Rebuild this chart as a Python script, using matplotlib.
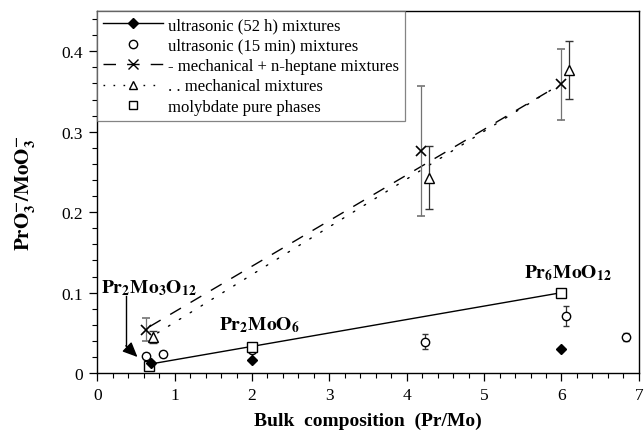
import matplotlib
matplotlib.use('Agg')
import matplotlib.pyplot as plt
from matplotlib.lines import Line2D
from matplotlib.ticker import MultipleLocator

plt.rcParams['font.family'] = ['Liberation Serif', 'DejaVu Serif']
plt.rcParams['mathtext.fontset'] = 'stix'

# ultrasonic (52 h) mixtures
u52_x = [0.70, 2.0, 6.0]
u52_y = [0.013, 0.016, 0.030]

# ultrasonic (15 min) mixtures
u15_x = [0.63, 0.85, 2.0, 4.24, 6.06, 6.84]
u15_y = [0.021, 0.024, 0.029, 0.039, 0.071, 0.045]
u15_err = [0.004, 0.004, 0.0, 0.009, 0.013, 0.005]

# mechanical + n-heptane mixtures
hep_x = [0.63, 4.19, 6.0]
hep_y = [0.054, 0.276, 0.359]
hep_err = [0.014, 0.081, 0.044]
hep_line_x = [0.68, 5.9]
hep_line_y = [0.058, 0.354]

# mechanical mixtures
mec_x = [0.72, 4.29, 6.10]
mec_y = [0.045, 0.243, 0.377]
mec_err = [0.007, 0.039, 0.036]
mec_line_x = [0.78, 5.95]
mec_line_y = [0.050, 0.357]

# molybdate pure phases
pure_x = [0.67, 2.0, 6.0]
pure_y = [0.009, 0.032, 0.100]
pure_line_x = [0.76, 6.0]
pure_line_y = [0.0125, 0.100]

fig = plt.figure(figsize=(6.44, 4.31), dpi=100)
ax = fig.add_axes([0.151, 0.132, 0.841, 0.840])

# lines
ax.plot(pure_line_x, pure_line_y, '-', color='black', lw=1.0)
ax.plot(hep_line_x, hep_line_y, color='black', lw=1.0, dashes=(9, 8))
ax.plot(mec_line_x, mec_line_y, color='black', lw=1.0, dashes=(1.2, 8), dash_capstyle='round')

# error bars and markers
ax.errorbar(hep_x, hep_y, yerr=hep_err, fmt='x', color='black', ecolor='0.45',
            ms=7, mew=1.2, elinewidth=0.9, capsize=3, zorder=3)
ax.errorbar(mec_x, mec_y, yerr=mec_err, fmt='^', mfc='white', mec='black',
            ecolor='0.2', ms=7, mew=1.0, elinewidth=0.9, capsize=3, zorder=3)
ax.errorbar(u15_x, u15_y, yerr=u15_err, fmt='o', mfc='white', mec='black',
            ecolor='0.2', ms=6, mew=1.0, elinewidth=0.9, capsize=2.5, zorder=3)
ax.plot(pure_x, pure_y, 's', mfc='white', mec='black', ms=7, mew=1.0, zorder=4)
ax.plot(u52_x, u52_y, 'D', color='black', ms=5, zorder=5)

# annotations
ax.text(0.05, 0.107, r'$\mathbf{Pr_2Mo_3O_{12}}$', fontsize=14, va='center', ha='left')
ax.plot([0.37, 0.37], [0.096, 0.034], color='black', lw=1.0)
ax.annotate('', xy=(0.52, 0.02), xytext=(0.37, 0.034),
            arrowprops=dict(arrowstyle='-|>,head_length=0.9,head_width=0.4',
                            color='black', lw=1.0, shrinkA=0, shrinkB=0))
ax.text(2.09, 0.061, r'$\mathbf{Pr_2MoO_6}$', fontsize=14, va='center', ha='center')
ax.text(6.08, 0.126, r'$\mathbf{Pr_6MoO_{12}}$', fontsize=14, va='center', ha='center')

ax.set_xlim(0, 7)
ax.set_ylim(0, 0.45)
ax.xaxis.set_major_locator(MultipleLocator(1))
ax.xaxis.set_minor_locator(MultipleLocator(0.2))
ax.yaxis.set_minor_locator(MultipleLocator(0.02))
ax.set_yticks([0, 0.1, 0.2, 0.3, 0.4])
ax.set_yticklabels(['0', '0.1', '0.2', '0.3', '0.4'])
ax.tick_params(which='major', direction='out', length=6, width=0.9, labelsize=12.5, pad=4)
ax.tick_params(which='minor', direction='out', length=3.5, width=0.8)
for s in ax.spines.values():
    s.set_linewidth(1.0)

ax.set_xlabel('Bulk  composition  (Pr/Mo)', fontsize=14, fontweight='bold', labelpad=6)
ax.set_ylabel(r'$\mathbf{PrO_3^{-}/MoO_3^{-}}$', fontsize=15, labelpad=18)

handles = [
    Line2D([], [], color='black', lw=1.0, marker='D', ms=5),
    Line2D([], [], ls='none', marker='o', mfc='white', mec='black', ms=6),
    Line2D([], [], color='black', lw=1.0, dashes=(9, 8), marker='x', ms=7, mew=1.0),
    Line2D([], [], color='black', lw=1.0, dashes=(1.2, 6), marker='^', mfc='white',
           mec='black', ms=6),
    Line2D([], [], ls='none', marker='s', mfc='white', mec='black', ms=6),
]
labels = ['ultrasonic (52 h) mixtures', 'ultrasonic (15 min) mixtures',
          '- mechanical + n-heptane mixtures', '. . mechanical mixtures',
          'molybdate pure phases']
leg = ax.legend(handles, labels, loc='upper left', fontsize=12, frameon=True,
                fancybox=False, edgecolor='0.4', borderaxespad=0, handlelength=3.6,
                handletextpad=0.3, labelspacing=0.27, borderpad=0.35)
leg.get_frame().set_linewidth(0.9)

fig.savefig('out.png', dpi=100)
